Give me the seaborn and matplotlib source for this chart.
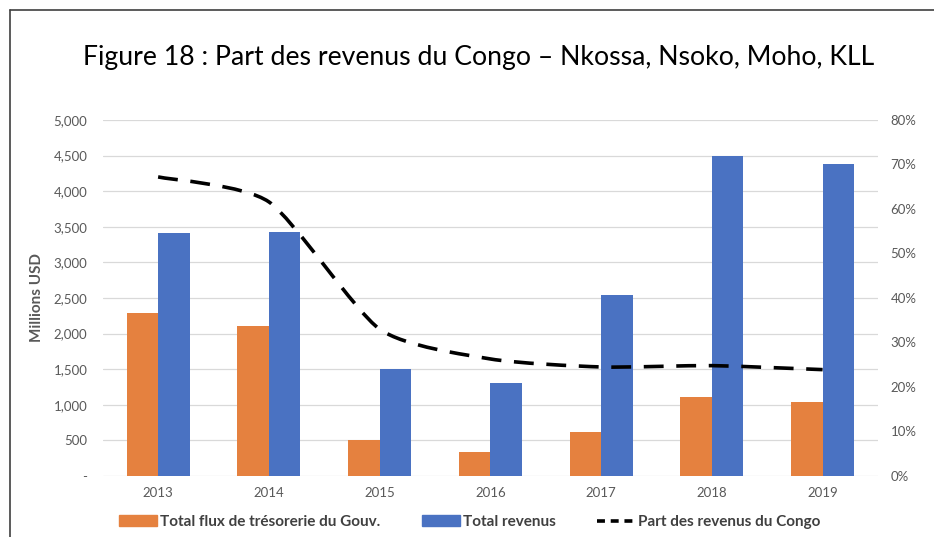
import numpy as np
import pandas as pd
import seaborn as sns
import matplotlib.pyplot as plt
from matplotlib.path import Path
from matplotlib.patches import PathPatch, Patch
from matplotlib.lines import Line2D
from matplotlib.ticker import FuncFormatter, MultipleLocator

# ----- data -----
years = ["2013", "2014", "2015", "2016", "2017", "2018", "2019"]
flux_gouv = [2290, 2110, 500, 340, 620, 1115, 1035]
total_revenus = [3410, 3425, 1500, 1305, 2535, 4500, 4380]
part_congo = [67.2, 61.6, 33.0, 26.3, 24.5, 24.8, 23.9]

lab_flux = "Total flux de trésorerie du Gouv."
lab_rev = "Total revenus"
lab_part = "Part des revenus du Congo"

ORANGE = "#E5813F"
BLUE = "#4A72C2"
GREY = "#595959"

sns.set_theme(style="white")
plt.rcParams["font.family"] = ["Lato", "DejaVu Sans"]

fig = plt.figure(figsize=(9.34, 5.37), dpi=100)
ax = fig.add_axes([0.110, 0.1136, 0.830, 0.663])

df = pd.DataFrame({
    "year": years * 2,
    "value": flux_gouv + total_revenus,
    "serie": [lab_flux] * len(years) + [lab_rev] * len(years),
})
sns.barplot(data=df, x="year", y="value", hue="serie", palette=[ORANGE, BLUE],
            width=0.57, gap=0, saturation=1, linewidth=0, legend=False, ax=ax)

ax.set_ylim(0, 5000)
ax.yaxis.set_major_locator(MultipleLocator(500))
ax.yaxis.set_major_formatter(FuncFormatter(lambda v, p: "-" if v == 0 else f"{v:,.0f}"))
ax.grid(axis="y", color="#D9D9D9", lw=0.9)
ax.set_axisbelow(True)
sns.despine(ax=ax, left=True, bottom=True)
ax.tick_params(axis="y", length=0, colors=GREY, labelsize=9.5, pad=11)
ax.tick_params(axis="x", length=0, colors=GREY, labelsize=9.5, pad=8)
ax.set_xlabel("")
ax.set_ylabel("Millions USD", color=GREY, fontsize=11, fontweight="bold", labelpad=7)

# secondary axis: share (%)
ax2 = ax.twinx()
ax2.set_ylim(0, 80)
ax2.yaxis.set_major_locator(MultipleLocator(10))
ax2.yaxis.set_major_formatter(FuncFormatter(lambda v, p: f"{v:.0f}%"))
ax2.tick_params(length=0, colors=GREY, labelsize=9.5, pad=9)
for s in ax2.spines.values():
    s.set_visible(False)
ax2.grid(False)

# smoothed line (Bezier through the data points, like Excel smoothing)
pts = np.column_stack([np.arange(len(years)), np.array(part_congo)])
verts = [pts[0]]
codes = [Path.MOVETO]
n = len(pts)
k = 1 / 9
for i in range(n - 1):
    p0 = pts[max(i - 1, 0)]
    p1 = pts[i]
    p2 = pts[i + 1]
    p3 = pts[min(i + 2, n - 1)]
    verts += [p1 + (p2 - p0) * k, p2 - (p3 - p1) * k, p2]
    codes += [Path.CURVE4] * 3
ax2.add_patch(PathPatch(Path(verts, codes), fill=False, edgecolor="black",
                        lw=2.6, linestyle=(0, (5.5, 3.5)), capstyle="butt"))

# title
fig.text(0.512, 1 - 57 / 537, "Figure 18 : Part des revenus du Congo – Nkossa, Nsoko, Moho, KLL",
         ha="center", va="center", fontsize=19.2, color="black")

# legend
handles = [Patch(color=ORANGE), Patch(color=BLUE),
           Line2D([], [], color="black", lw=2.6, linestyle=(0, (2.2, 1.6)))]
fig.legend(handles, [lab_flux, lab_rev, lab_part], loc="center", ncol=3,
           bbox_to_anchor=(0.503, 1 - 522 / 537), frameon=False, handlelength=2.5,
           handleheight=0.7, handletextpad=0.2, columnspacing=2.7,
           prop={"weight": "bold", "size": 11}, labelcolor="#404040")

# outer frame (top and left edges)
fig.add_artist(Line2D([10 / 934, 1], [1 - 10 / 537] * 2, transform=fig.transFigure,
                      color="#404040", lw=1.2))
fig.add_artist(Line2D([10 / 934] * 2, [0, 1 - 10 / 537], transform=fig.transFigure,
                      color="#404040", lw=1.2))

fig.savefig("out.png", dpi=100)
